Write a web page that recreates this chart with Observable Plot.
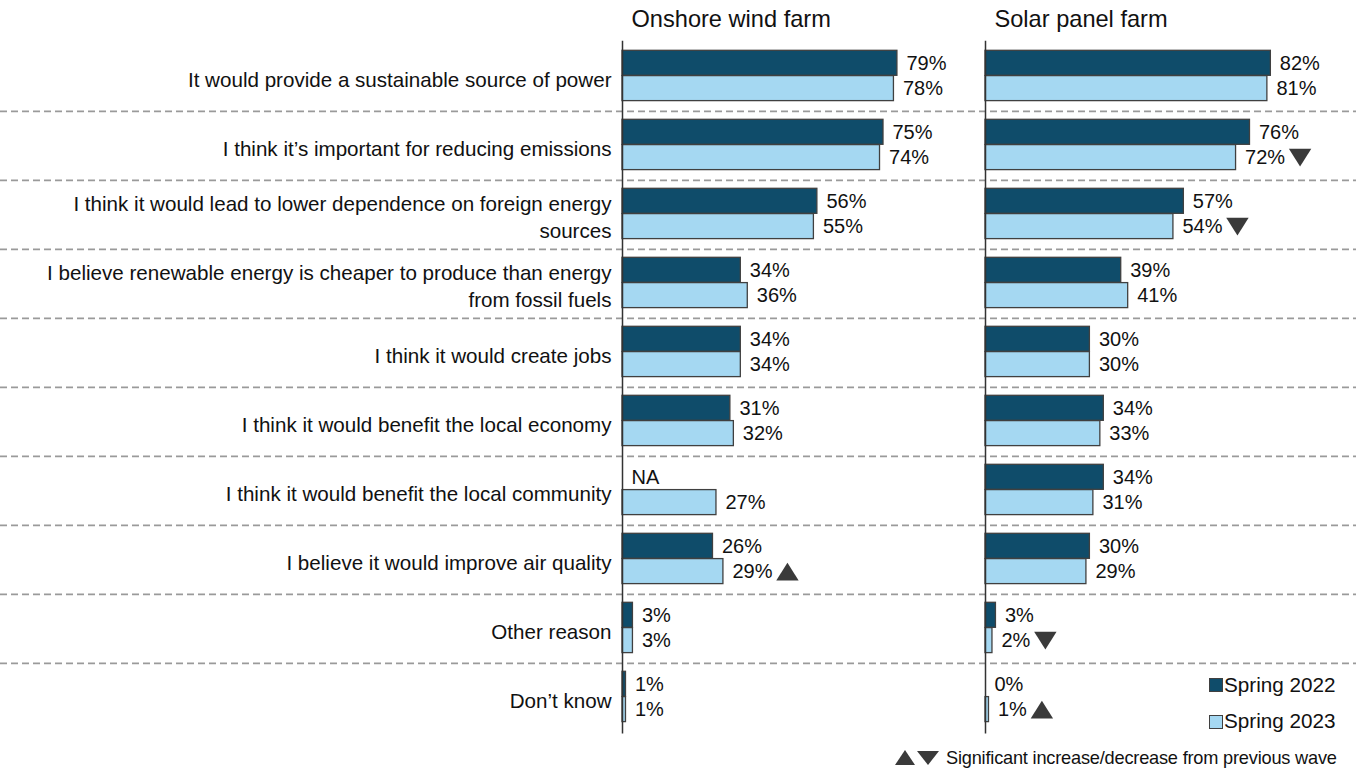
<!DOCTYPE html>
<html>
<head>
<meta charset="utf-8">
<script src="https://cdn.jsdelivr.net/npm/d3@7"></script>
<script src="https://cdn.jsdelivr.net/npm/@observablehq/plot@0.6"></script>
<style>
  html, body { margin: 0; padding: 0; background: #fff; }
  #wrap { position: relative; width: 1356px; height: 771px; font-family: "Liberation Sans", Arial, sans-serif; color: #111; }
  .lg { position: absolute; font-size: 20.7px; line-height: 20px; white-space: nowrap; }
  .sq { position: absolute; width: 12px; height: 12px; border: 1px solid #404040; }
  #foot { position: absolute; left: 895px; top: 748px; font-size: 18.2px; line-height: 20px; white-space: nowrap; display: flex; align-items: center; }
</style>
</head>
<body>
<div id="wrap"></div>
<script>
// ---------- data ----------
const categories = [
  "It would provide a sustainable source of power",
  "I think it’s important for reducing emissions",
  "I think it would lead to lower dependence on foreign energy\nsources",
  "I believe renewable energy is cheaper to produce than energy\nfrom fossil fuels",
  "I think it would create jobs",
  "I think it would benefit the local economy",
  "I think it would benefit the local community",
  "I believe it would improve air quality",
  "Other reason",
  "Don’t know"
];
const panels = ["Onshore wind farm", "Solar panel farm"];
const seriesNames = ["Spring 2022", "Spring 2023"];
const wind2022 = [79, 75, 56, 34, 34, 31, null, 26, 3, 1];
const wind2023 = [78, 74, 55, 36, 34, 32, 27, 29, 3, 1];
const solar2022 = [82, 76, 57, 39, 30, 34, 34, 30, 3, 0];
const solar2023 = [81, 72, 54, 41, 30, 33, 31, 29, 2, 1];
// significance of Spring 2023 vs previous wave: 1 = increase, -1 = decrease, 0 = none
const windSig = [0, 0, 0, 0, 0, 0, 0, 1, 0, 0];
const solarSig = [0, -1, -1, 0, 0, 0, 0, 0, -1, 1];
const footnote = "Significant increase/decrease from previous wave";

// ---------- layout ----------
const W = 1356, H = 771;
const AXIS1 = 622, AXIS2 = 985, PX = 3.48;
const TOP = 40.7, BOTTOM = 733.6;
const BAND = (BOTTOM - TOP) / categories.length;
const DARK = "#0f4c6a", LIGHT = "#a5d8f2", EDGE = "#404040", TXT = "#111";
const FONT = 20;
const offsets = [0, (AXIS2 - AXIS1) / PX];

const rows = [];
[[wind2022, wind2023, windSig], [solar2022, solar2023, solarSig]].forEach(([a, b, s], p) => {
  categories.forEach((c, i) => rows.push({cat: c, panel: panels[p], off: offsets[p], v22: a[i], v23: b[i], sig: s[i]}));
});

const barDarkTop = 8.3, barH = 25.3;
const darkInsetTop = barDarkTop, darkInsetBottom = BAND - barDarkTop - barH;
const lightInsetTop = barDarkTop + barH, lightInsetBottom = BAND - barDarkTop - 2 * barH;
const dyDark = barDarkTop + barH / 2 - BAND / 2;
const dyLight = barDarkTop + 1.5 * barH - BAND / 2;

function labelWidth(v) { return (String(v).length * 0.556 + 0.889) * FONT; }

const triUp = {draw(ctx, size) { const r = Math.sqrt(size / Math.PI); const w = r * 1.4, h = r * 1.1; ctx.moveTo(0, -h); ctx.lineTo(w, h); ctx.lineTo(-w, h); ctx.closePath(); }};
const triDown = {draw(ctx, size) { const r = Math.sqrt(size / Math.PI); const w = r * 1.4, h = r * 1.1; ctx.moveTo(0, h); ctx.lineTo(w, -h); ctx.lineTo(-w, -h); ctx.closePath(); }};

const sigRows = rows.filter(d => d.sig !== 0);

function triMarks() {
  return sigRows.map(d => Plot.dot([d], {
    y: "cat", x: d.off + d.v23, symbol: d.sig > 0 ? triUp : triDown, r: 8, fill: "#3a3a3a",
    dx: 9 + labelWidth(d.v23) + 4 + 11, dy: dyLight
  }));
}

const chart = Plot.plot({
  width: W, height: H,
  marginLeft: 0, marginRight: 0, marginTop: TOP, marginBottom: H - BOTTOM,
  x: {domain: [-AXIS1 / PX, (W - AXIS1) / PX], axis: null},
  y: {domain: categories, padding: 0, axis: null},
  style: {fontFamily: "'Liberation Sans', Arial, sans-serif", fontSize: FONT + "px", color: TXT, background: "white"},
  marks: [
    Plot.ruleY(categories.slice(1), {y: d => d, dy: -BAND / 2, stroke: "#9a9a9a", strokeWidth: 1.6, strokeDasharray: "7,4"}),
    Plot.barX(rows.filter(d => d.v22 != null && d.v22 > 0), {y: "cat", x1: "off", x2: d => d.off + d.v22, fill: DARK, stroke: EDGE, strokeWidth: 1.3, insetTop: darkInsetTop, insetBottom: darkInsetBottom}),
    Plot.barX(rows.filter(d => d.v23 != null && d.v23 > 0), {y: "cat", x1: "off", x2: d => d.off + d.v23, fill: LIGHT, stroke: EDGE, strokeWidth: 1.3, insetTop: lightInsetTop, insetBottom: lightInsetBottom}),
    Plot.ruleX(offsets, {stroke: "#333", strokeWidth: 1.5}),
    Plot.text(rows, {y: "cat", x: d => d.off + (d.v22 ?? 0), text: d => d.v22 == null ? "NA" : d.v22 + "%", dx: 9, dy: dyDark, textAnchor: "start", fill: TXT, fontSize: FONT}),
    Plot.text(rows, {y: "cat", x: d => d.off + (d.v23 ?? 0), text: d => d.v23 == null ? "NA" : d.v23 + "%", dx: 9, dy: dyLight, textAnchor: "start", fill: TXT, fontSize: FONT}),
    ...triMarks(),
    Plot.text(categories, {y: d => d, x: 0, text: d => d, dx: -11, dy: 1, textAnchor: "end", lineHeight: 1.3, fill: TXT, fontSize: 20.6}),
    Plot.text(panels, {x: (d, i) => offsets[i], text: d => d, frameAnchor: "top", lineAnchor: "middle", dy: -22, dx: 9, textAnchor: "start", fill: TXT, fontSize: 23.6})
  ]
});

const wrap = document.getElementById("wrap");
wrap.appendChild(chart);

// legend
const legendTops = [675, 711];
const squareTops = [678, 715];
seriesNames.forEach((name, i) => {
  const sq = document.createElement("div");
  sq.className = "sq";
  sq.style.left = "1209px";
  sq.style.top = squareTops[i] + "px";
  sq.style.background = i === 0 ? DARK : LIGHT;
  wrap.appendChild(sq);
  const t = document.createElement("div");
  t.className = "lg";
  t.style.left = "1224px";
  t.style.top = legendTops[i] + "px";
  t.textContent = name;
  wrap.appendChild(t);
});

// footnote
const foot = document.createElement("div");
foot.id = "foot";
foot.innerHTML = '<svg width="46" height="16" style="margin-right:5px"><polygon points="0,15 10,0 20,15" fill="#3a3a3a"/><polygon points="22,1 44,1 33,15" fill="#3a3a3a"/></svg>';
const ft = document.createElement("span");
ft.textContent = footnote;
ft.style.letterSpacing = "-0.2px";
foot.appendChild(ft);
wrap.appendChild(foot);
</script>
</body>
</html>
